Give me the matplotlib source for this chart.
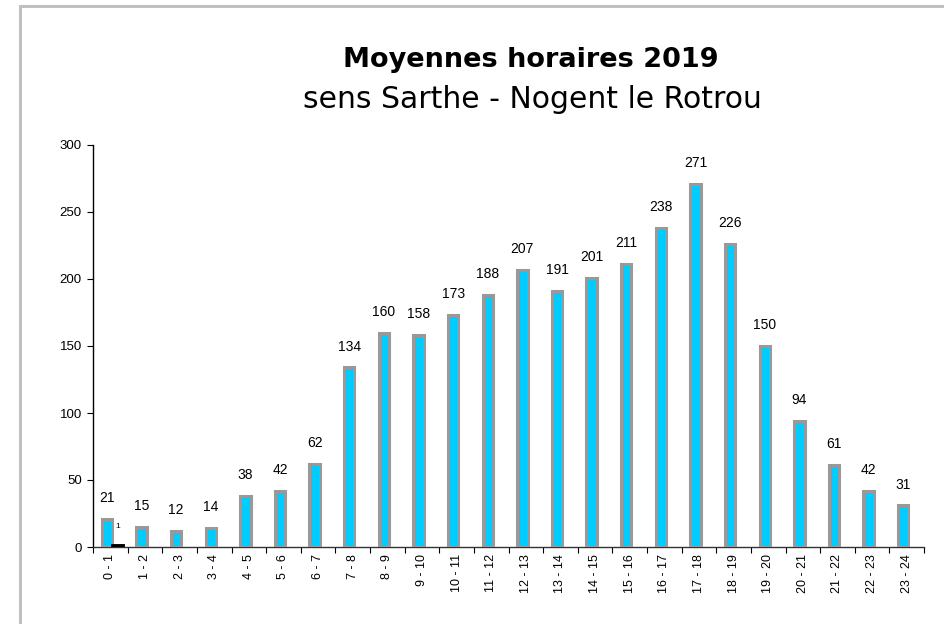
import matplotlib
matplotlib.use("Agg")
import matplotlib.pyplot as plt
from matplotlib.patches import Rectangle
import numpy as np

categories = ["0 - 1", "1 - 2", "2 - 3", "3 - 4", "4 - 5", "5 - 6", "6 - 7", "7 - 8",
              "8 - 9", "9 - 10", "10 - 11", "11 - 12", "12 - 13", "13 - 14", "14 - 15",
              "15 - 16", "16 - 17", "17 - 18", "18 - 19", "19 - 20", "20 - 21",
              "21 - 22", "22 - 23", "23 - 24"]
values = [21, 15, 12, 14, 38, 42, 62, 134, 160, 158, 173, 188, 207, 191, 201,
          211, 238, 271, 226, 150, 94, 61, 42, 31]
values2 = [1, 0, 0, 0, 0, 0, 0, 0, 0, 0, 0, 0, 0, 0, 0, 0, 0, 0, 0, 0, 0, 0, 0, 0]
yticks = [0, 50, 100, 150, 200, 250, 300]

fig = plt.figure(figsize=(9.44, 6.24), dpi=100)
fig.patches.append(Rectangle((19.5/944, -0.1), 1.2, (624-5.5)/624 + 0.1,
                             transform=fig.transFigure, fill=False,
                             edgecolor="#c0c0c0", linewidth=2.2))

ax = fig.add_axes([93/944, 1-547/624, 831/944, (547-145)/624])
x = np.arange(len(categories))
w = 0.30
ax.bar(x - 0.10, values, width=w, color="#00ccff", edgecolor="#999999",
       linewidth=2.2, zorder=3)
ax.bar(x + 0.22, values2, width=w, color="black", edgecolor="black",
       linewidth=[2.8 if v else 0 for v in values2], zorder=3)

for xi, v in zip(x, values):
    ax.annotate(str(v), (xi - 0.10, v), xytext=(0, 10), textcoords="offset points",
                ha="center", va="bottom", fontsize=10, family="Liberation Sans")
for xi, v in zip(x, values2):
    if v:
        ax.annotate(str(v), (xi + 0.22, v), xytext=(0, 11), textcoords="offset points",
                    ha="center", va="bottom", fontsize=6, family="Liberation Sans")

ax.set_xlim(-0.5, len(categories) - 0.5)
ax.set_ylim(0, 300)
ax.set_yticks(yticks)
ax.set_yticklabels([str(t) for t in yticks], family="Liberation Sans", fontsize=9.5)
ax.set_xticks(x)
ax.set_xticklabels(categories, rotation=90, family="Liberation Sans", fontsize=9)
ax.set_xticks(np.arange(len(categories) + 1) - 0.5, minor=True)
ax.tick_params(axis="x", which="major", length=0, pad=5)
ax.tick_params(axis="x", which="minor", length=4, width=0.8, direction="out")
ax.tick_params(axis="y", length=4, width=0.8, direction="out", pad=4)
for s in ("top", "right"):
    ax.spines[s].set_visible(False)
ax.spines["left"].set_linewidth(1.0)
ax.spines["bottom"].set_linewidth(1.0)
ax.spines["bottom"].set_color("#333333")

fig.text(531/944, 1-60/624, "Moyennes horaires 2019", ha="center", va="center",
         fontsize=19.5, fontweight="bold", family="DejaVu Sans")
fig.text(532/944, 1-100/624, "sens Sarthe - Nogent le Rotrou", ha="center", va="center",
         fontsize=21.5, family="DejaVu Sans")

fig.savefig("out.png", dpi=100)
